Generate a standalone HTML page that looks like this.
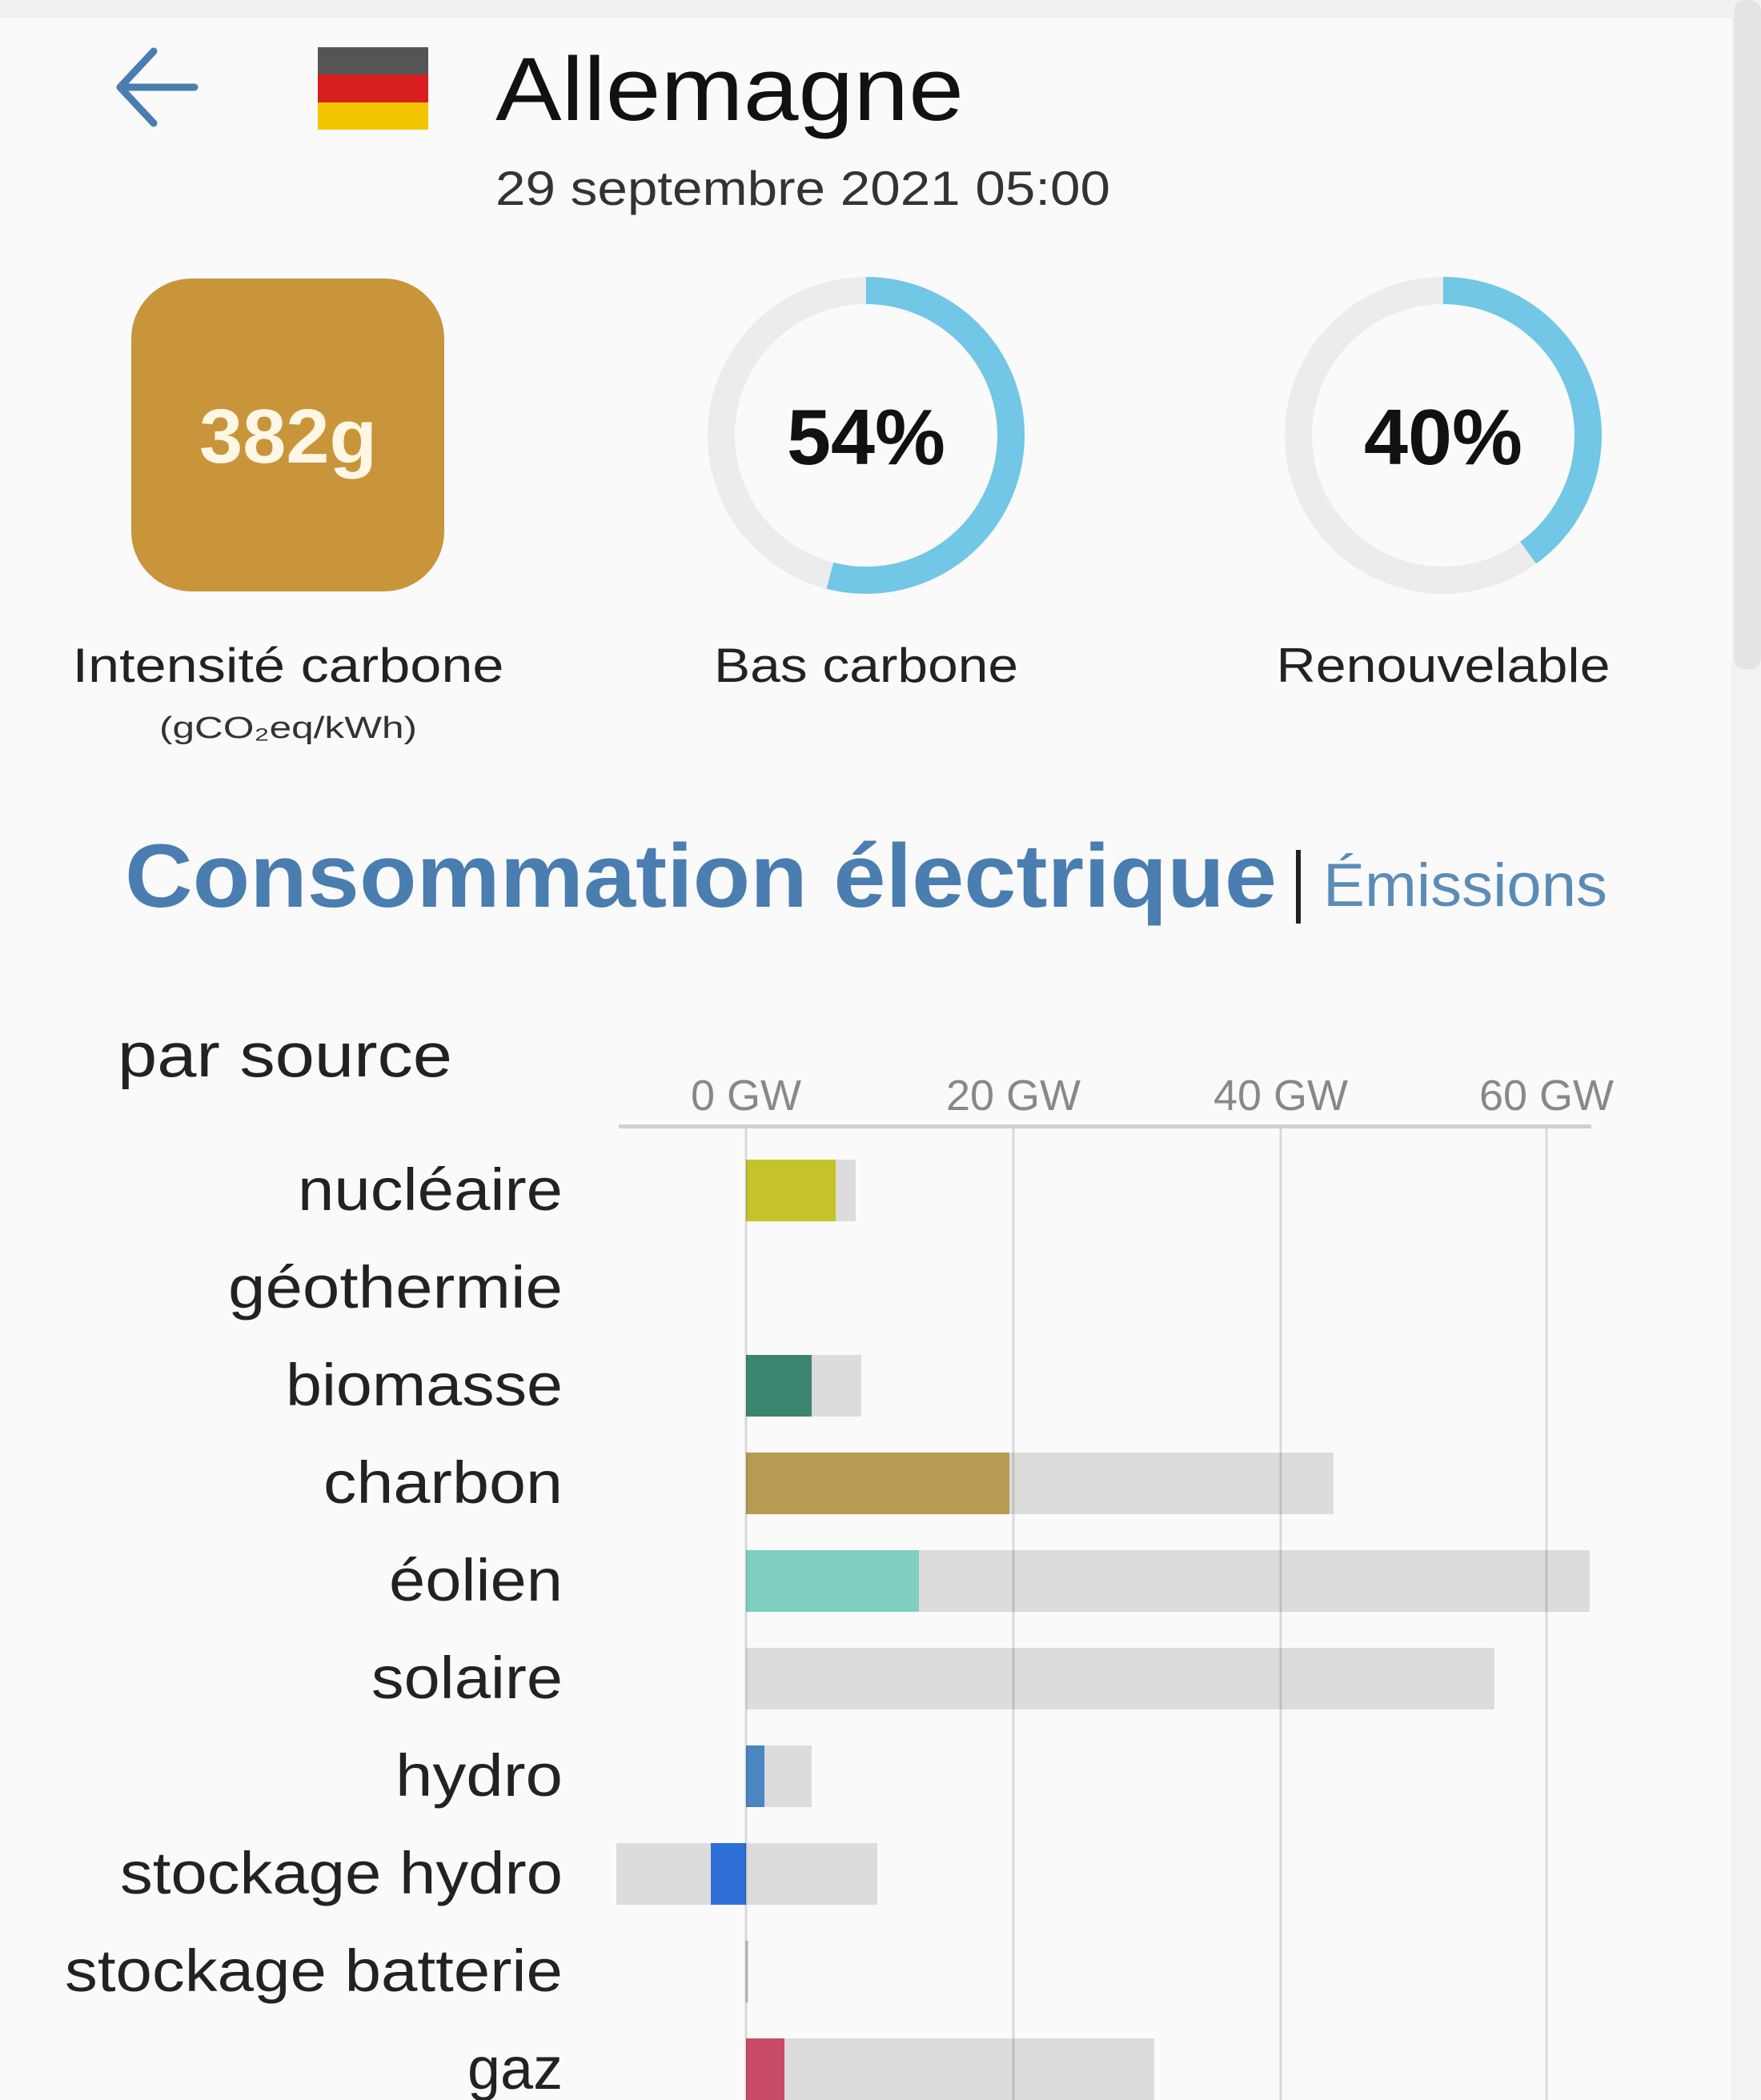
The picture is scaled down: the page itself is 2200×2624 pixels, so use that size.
<!DOCTYPE html>
<html><head><meta charset="utf-8"><style>
html,body{margin:0;padding:0;background:#fafafa;}
svg{display:block;}
text{font-family:"Liberation Sans",sans-serif;}
</style></head><body>
<svg width="2200" height="2624" viewBox="0 0 2200 2624" xmlns="http://www.w3.org/2000/svg">
<rect width="2200" height="2624" fill="#fafafa"/>
<rect x="0" y="0" width="2200" height="22" fill="#f0f0f0"/>
<rect x="2163" y="0" width="37" height="2624" fill="#f2f2f2"/>
<rect x="2166" y="0" width="34" height="836" rx="14" fill="#e4e4e4"/>
<g stroke="#4a7db0" stroke-width="9" fill="none" stroke-linecap="round" stroke-linejoin="round">
<line x1="152" y1="109" x2="243" y2="109"/>
<polyline points="192,64 150,109 192,154"/>
</g>
<rect x="397" y="59" width="138" height="34" fill="#555"/>
<rect x="397" y="93" width="138" height="35" fill="#d81e1e"/>
<rect x="397" y="128" width="138" height="34" fill="#f2c500"/>
<text x="619" y="150" font-size="112" fill="#111" textLength="585" lengthAdjust="spacingAndGlyphs">Allemagne</text>
<text x="619" y="256" font-size="60" fill="#333" textLength="768" lengthAdjust="spacingAndGlyphs">29 septembre 2021 05:00</text>
<rect x="164" y="348" width="391" height="391" rx="75" fill="#c8953a"/>
<text x="360" y="578" font-size="96" font-weight="bold" fill="#fff7e6" text-anchor="middle" textLength="222" lengthAdjust="spacingAndGlyphs">382g</text>
<circle cx="1082" cy="544" r="181" fill="none" stroke="#ececec" stroke-width="34"/>
<circle cx="1082" cy="544" r="181" fill="none" stroke="#72c6e6" stroke-width="34" stroke-dasharray="614 2000" transform="rotate(-90 1082 544)"/>
<text x="1082" y="580" font-size="98" font-weight="bold" fill="#111" text-anchor="middle" textLength="198" lengthAdjust="spacingAndGlyphs">54%</text>
<circle cx="1803" cy="544" r="181" fill="none" stroke="#ececec" stroke-width="34"/>
<circle cx="1803" cy="544" r="181" fill="none" stroke="#72c6e6" stroke-width="34" stroke-dasharray="455 2000" transform="rotate(-90 1803 544)"/>
<text x="1803" y="580" font-size="98" font-weight="bold" fill="#111" text-anchor="middle" textLength="198" lengthAdjust="spacingAndGlyphs">40%</text>
<text x="360" y="852" font-size="60" fill="#222" text-anchor="middle" textLength="539" lengthAdjust="spacingAndGlyphs">Intensité carbone</text>
<text x="360" y="922" font-size="38" fill="#333" text-anchor="middle" textLength="322" lengthAdjust="spacingAndGlyphs">(gCO₂eq/kWh)</text>
<text x="1082" y="852" font-size="60" fill="#222" text-anchor="middle" textLength="380" lengthAdjust="spacingAndGlyphs">Bas carbone</text>
<text x="1803" y="852" font-size="60" fill="#222" text-anchor="middle" textLength="417" lengthAdjust="spacingAndGlyphs">Renouvelable</text>
<text x="156" y="1133" font-size="112" font-weight="bold" fill="#4a7db0" textLength="1439" lengthAdjust="spacingAndGlyphs">Consommation électrique</text>
<rect x="1619" y="1062" width="6" height="92" fill="#222"/>
<text x="1653" y="1132" font-size="76" fill="#5b8cb8" textLength="355" lengthAdjust="spacingAndGlyphs">Émissions</text>
<text x="147" y="1345" font-size="78" fill="#222" textLength="418" lengthAdjust="spacingAndGlyphs">par source</text>
<g font-size="54" fill="#888" text-anchor="middle">
<text x="932" y="1387">0 GW</text>
<text x="1266" y="1387">20 GW</text>
<text x="1600" y="1387">40 GW</text>
<text x="1932" y="1387">60 GW</text>
</g>
<g>
<rect x="932" y="1449" width="137" height="77" fill="#dcdcdc"/>
<rect x="932" y="1449" width="112" height="77" fill="#c5c22a"/>
<rect x="932" y="1693" width="144" height="77" fill="#dcdcdc"/>
<rect x="932" y="1693" width="82" height="77" fill="#3c8570"/>
<rect x="932" y="1815" width="734" height="77" fill="#dcdcdc"/>
<rect x="932" y="1815" width="329" height="77" fill="#b89b52"/>
<rect x="932" y="1937" width="1054" height="77" fill="#dcdcdc"/>
<rect x="932" y="1937" width="216" height="77" fill="#7ecfc0"/>
<rect x="932" y="2059" width="935" height="77" fill="#dcdcdc"/>
<rect x="932" y="2181" width="82" height="77" fill="#dcdcdc"/>
<rect x="932" y="2181" width="23" height="77" fill="#4a86c0"/>
<rect x="770" y="2303" width="326" height="77" fill="#dcdcdc"/>
<rect x="888" y="2303" width="44" height="77" fill="#2d6fd6"/>
<rect x="931" y="2425" width="4" height="77" fill="#ccc"/>
<rect x="932" y="2547" width="510" height="77" fill="#dcdcdc"/>
<rect x="932" y="2547" width="48" height="77" fill="#c84c68"/>
</g>
<g stroke="#000" stroke-opacity="0.13" stroke-width="3">
<line x1="932" y1="1407" x2="932" y2="2624"/>
<line x1="1266" y1="1407" x2="1266" y2="2624"/>
<line x1="1600" y1="1407" x2="1600" y2="2624"/>
<line x1="1932" y1="1407" x2="1932" y2="2624"/>
</g>
<rect x="773" y="1405" width="1215" height="5" fill="#d0d0d0"/>
<g font-size="74" fill="#222" text-anchor="end">
<text x="703" y="1512" textLength="331" lengthAdjust="spacingAndGlyphs">nucléaire</text>
<text x="703" y="1634" textLength="418" lengthAdjust="spacingAndGlyphs">géothermie</text>
<text x="703" y="1756" textLength="346" lengthAdjust="spacingAndGlyphs">biomasse</text>
<text x="703" y="1878" textLength="299" lengthAdjust="spacingAndGlyphs">charbon</text>
<text x="703" y="2000" textLength="217" lengthAdjust="spacingAndGlyphs">éolien</text>
<text x="703" y="2122" textLength="239" lengthAdjust="spacingAndGlyphs">solaire</text>
<text x="703" y="2244" textLength="209" lengthAdjust="spacingAndGlyphs">hydro</text>
<text x="703" y="2366" textLength="553" lengthAdjust="spacingAndGlyphs">stockage hydro</text>
<text x="703" y="2488" textLength="622" lengthAdjust="spacingAndGlyphs">stockage batterie</text>
<text x="703" y="2610" textLength="119" lengthAdjust="spacingAndGlyphs">gaz</text>
</g>
</svg>
</body></html>
